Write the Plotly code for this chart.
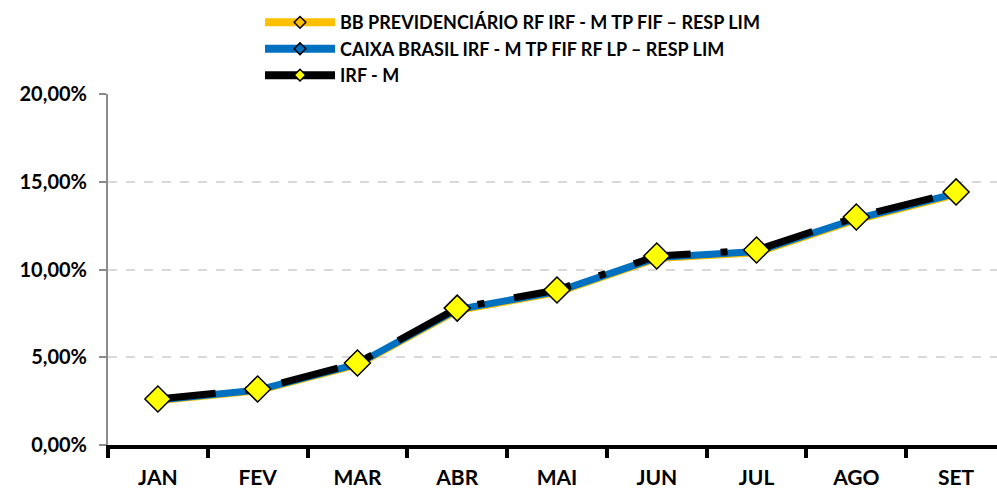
import plotly.graph_objects as go

months = ["JAN", "FEV", "MAR", "ABR", "MAI", "JUN", "JUL", "AGO", "SET"]
bb_prev = [2.52, 3.09, 4.56, 7.66, 8.68, 10.62, 10.95, 12.82, 14.27]
caixa = [2.56, 3.13, 4.61, 7.72, 8.74, 10.68, 11.02, 12.89, 14.34]
irf_m = [2.62, 3.19, 4.67, 7.80, 8.83, 10.77, 11.11, 12.99, 14.42]
series_names = [
    "BB PREVIDENCIÁRIO RF IRF - M TP FIF – RESP LIM",
    "CAIXA BRASIL IRF - M TP FIF RF LP – RESP LIM",
    "IRF - M",
]
y_ticks = [0, 5, 10, 15, 20]
y_tick_labels = ["0,00%", "5,00%", "10,00%", "15,00%", "20,00%"]

FONT = "Lato"
line_colors = ["#FFC000", "#0070C0", "black"]
marker_colors = ["#FFC000", "#0070C0", "#FFFF00"]

fig = go.Figure()
fig.add_trace(go.Scatter(
    x=months, y=bb_prev, mode="lines+markers", name=series_names[0], showlegend=False,
    line=dict(color=line_colors[0], width=7),
    marker=dict(symbol="diamond", size=9, color=marker_colors[0], line=dict(color="black", width=1.5)),
))
fig.add_trace(go.Scatter(
    x=months, y=caixa, mode="lines+markers", name=series_names[1], showlegend=False,
    line=dict(color=line_colors[1], width=7),
    marker=dict(symbol="diamond", size=9, color=marker_colors[1], line=dict(color="black", width=1.5)),
))
fig.add_trace(go.Scatter(
    x=months, y=irf_m, mode="lines+markers", name=series_names[2], showlegend=False,
    line=dict(color=line_colors[2], width=7, dash="58px,30px,7px,30px"),
    marker=dict(symbol="diamond", size=20, color=marker_colors[2], line=dict(color="black", width=1.5)),
))
# legend entries (small symbols, as in the reference legend)
for name, lc, mc in zip(series_names, line_colors, marker_colors):
    fig.add_trace(go.Scatter(
        x=[None], y=[None], mode="lines+markers", name=name, showlegend=True,
        line=dict(color=lc, width=8),
        marker=dict(symbol="diamond", size=9, color=mc, line=dict(color="black", width=1.5)),
    ))

fig.update_layout(
    width=997, height=489,
    margin=dict(l=108, r=0, t=94, b=44),
    paper_bgcolor="white", plot_bgcolor="white",
    font=dict(family=FONT, color="black"),
    showlegend=True,
    legend=dict(
        x=0.171, y=1.256, xanchor="left", yanchor="top",
        font=dict(family=FONT, size=18, color="black", weight="bold"),
        itemwidth=70, tracegroupgap=0,
        bgcolor="rgba(0,0,0,0)",
    ),
    xaxis=dict(
        type="category", range=[-0.5, 8.41], automargin=False,
        showline=True, linecolor="black", linewidth=4,
        ticks="outside", tickson="boundaries", ticklen=9, tickwidth=4, tickcolor="black",
        tickfont=dict(family=FONT, size=21, color="black", weight="bold"),
        ticklabelstandoff=11,
        showgrid=False, zeroline=False,
    ),
    yaxis=dict(
        range=[0, 20], tickvals=y_ticks, ticktext=y_tick_labels, automargin=False,
        showline=True, linecolor="#8C8C8C", linewidth=2,
        ticks="outside", ticklen=7, tickwidth=1.5, tickcolor="#8C8C8C",
        tickfont=dict(family=FONT, size=20, color="black", weight="bold"),
        ticklabelstandoff=8,
        showgrid=True, gridcolor="#D9D9D9", gridwidth=1.5, griddash="dash",
        zeroline=False,
    ),
)

fig.write_html("out.html", config={"displayModeBar": False},
               post_script="document.body.style.margin='0';")
